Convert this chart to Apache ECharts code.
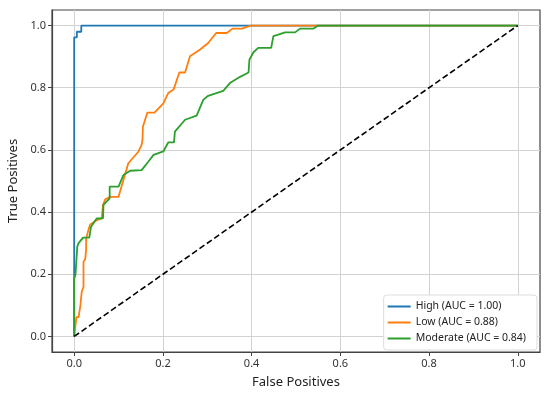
<!DOCTYPE html>
<html><head><meta charset="utf-8">
<script src="https://cdn.jsdelivr.net/npm/echarts@6/dist/echarts.min.js"></script>
<style>html,body{margin:0;padding:0;background:#fff}#c{width:550px;height:398px}</style>
</head><body><div id="c"></div>
<script>
const tickValues = [0.0, 0.2, 0.4, 0.6, 0.8, 1.0];
const seriesNames = ['High (AUC = 1.00)', 'Low (AUC = 0.88)', 'Moderate (AUC = 0.84)'];
const highFpr = [0, 0, 0.006, 0.006, 0.016, 0.016, 1];
const highTpr = [0, 0.962, 0.962, 0.98, 0.98, 1, 1];
const lowFpr = [0, 0.005, 0.01, 0.014, 0.017, 0.021, 0.021, 0.025, 0.027, 0.027, 0.032, 0.036, 0.051, 0.062, 0.065, 0.07, 0.081, 0.1, 0.111, 0.122, 0.145, 0.152, 0.154, 0.155, 0.165, 0.181, 0.201, 0.212, 0.224, 0.237, 0.25, 0.261, 0.284, 0.302, 0.32, 0.344, 0.357, 0.378, 0.398, 1];
const lowTpr = [0, 0.062, 0.062, 0.1, 0.143, 0.16, 0.24, 0.25, 0.28, 0.315, 0.342, 0.36, 0.374, 0.38, 0.423, 0.441, 0.449, 0.449, 0.503, 0.557, 0.595, 0.616, 0.632, 0.675, 0.72, 0.72, 0.75, 0.783, 0.794, 0.849, 0.849, 0.901, 0.923, 0.944, 0.976, 0.976, 0.99, 0.99, 1, 1];
const modFpr = [0, 0, 0.003, 0.007, 0.01, 0.02, 0.034, 0.038, 0.051, 0.065, 0.066, 0.08, 0.08, 0.1, 0.111, 0.126, 0.152, 0.167, 0.179, 0.201, 0.212, 0.225, 0.227, 0.25, 0.276, 0.291, 0.302, 0.336, 0.351, 0.374, 0.393, 0.395, 0.404, 0.415, 0.444, 0.449, 0.46, 0.475, 0.498, 0.509, 0.539, 0.55, 1];
const modTpr = [0, 0.186, 0.2, 0.29, 0.3, 0.318, 0.318, 0.353, 0.38, 0.38, 0.423, 0.444, 0.482, 0.482, 0.519, 0.533, 0.535, 0.562, 0.584, 0.595, 0.624, 0.624, 0.659, 0.697, 0.71, 0.761, 0.774, 0.79, 0.815, 0.835, 0.849, 0.89, 0.914, 0.928, 0.928, 0.966, 0.971, 0.978, 0.978, 0.99, 0.99, 1, 1];
const chanceFpr = [0, 1];
const chanceTpr = [0, 1];

const zip = (a, b) => a.map((v, i) => [v, b[i]]);
const colors = ['#1f77b4', '#ff7f0e', '#2ca02c'];
const font = 'Noto Sans';

function axisCommon(name, gap) {
  return {
    type: 'value', min: -0.05, max: 1.05,
    name: name, nameLocation: 'middle', nameGap: gap,
    nameTextStyle: { fontFamily: font, fontSize: 13, color: '#222' },
    axisLine: { show: true, onZero: false, lineStyle: { color: '#444', width: 1.2 } },
    axisTick: { show: true, length: 4, customValues: tickValues, lineStyle: { color: '#444' } },
    axisLabel: { customValues: tickValues, fontFamily: font, fontSize: 11, color: '#333', margin: 6,
      formatter: v => v.toFixed(1) },
    splitLine: { show: true, lineStyle: { color: '#d3d3d3', width: 1 } }
  };
}

const chart = echarts.init(document.getElementById('c'), null, { renderer: 'canvas' });
chart.setOption({
  animation: false,
  backgroundColor: '#fff',
  grid: { left: 52, right: 10, top: 10, bottom: 46, containLabel: false, outerBoundsMode: 'none',
    show: true, borderColor: '#444', borderWidth: 1.2 },
  xAxis: axisCommon('False Positives', 24),
  yAxis: axisCommon('True Positives', 31),
  legend: {
    orient: 'vertical', right: 13, top: 295,
    data: seriesNames,
    icon: 'rect', itemWidth: 23, itemHeight: 2, itemGap: 5,
    backgroundColor: '#fff', borderColor: '#ddd', borderWidth: 1, borderRadius: 3,
    padding: [6, 11, 6, 4],
    textStyle: { fontFamily: font, fontSize: 10.5, color: '#222' }
  },
  series: [
    { name: seriesNames[0], type: 'line', data: zip(highFpr, highTpr), showSymbol: false, symbol: 'none',
      lineStyle: { color: colors[0], width: 1.8 }, itemStyle: { color: colors[0] } },
    { name: seriesNames[1], type: 'line', data: zip(lowFpr, lowTpr), showSymbol: false, symbol: 'none',
      lineStyle: { color: colors[1], width: 1.8 }, itemStyle: { color: colors[1] } },
    { name: seriesNames[2], type: 'line', data: zip(modFpr, modTpr), showSymbol: false, symbol: 'none',
      lineStyle: { color: colors[2], width: 1.8 }, itemStyle: { color: colors[2] } },
    { name: 'chance', type: 'line', data: zip(chanceFpr, chanceTpr), showSymbol: false, symbol: 'none',
      lineStyle: { color: '#000', width: 1.6, type: [6, 3] } }
  ]
});
</script></body></html>
